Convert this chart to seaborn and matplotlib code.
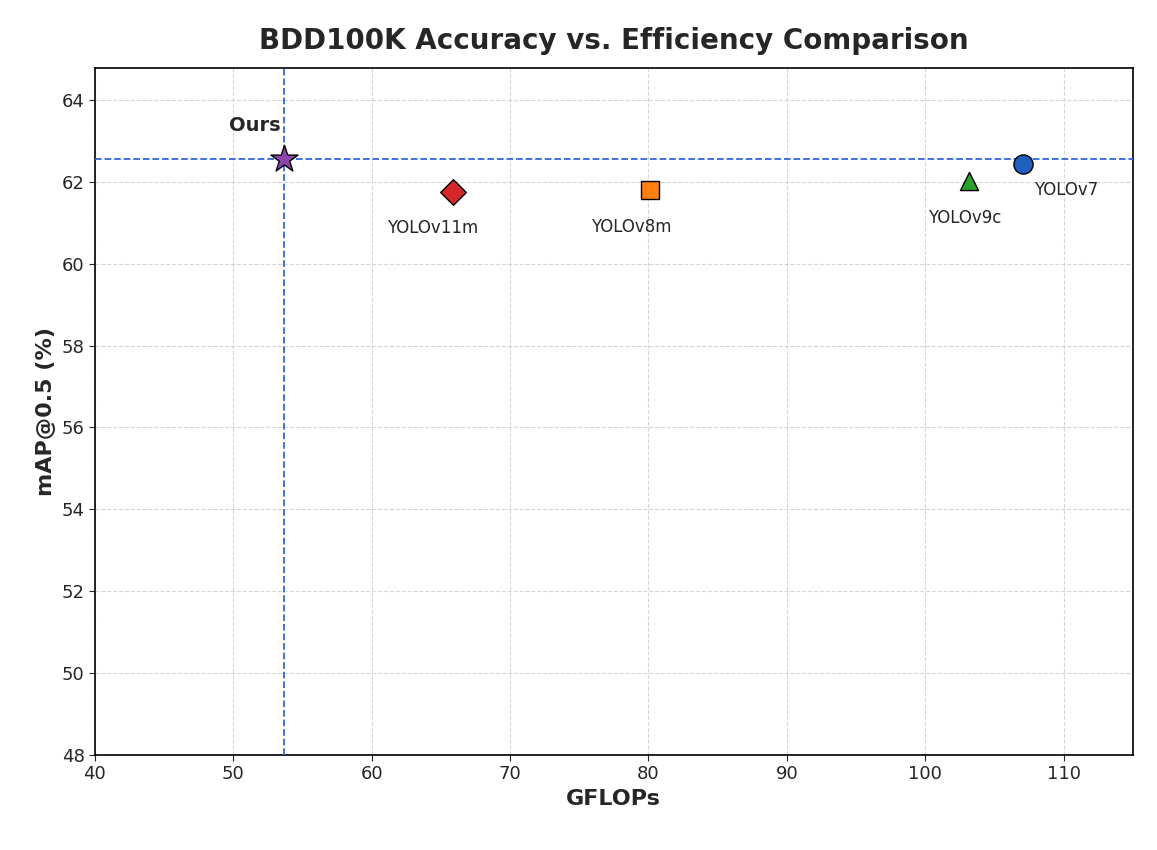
import matplotlib
matplotlib.use("Agg")
import matplotlib.pyplot as plt
import seaborn as sns
import pandas as pd

models = ["Ours", "YOLOv11m", "YOLOv8m", "YOLOv9c", "YOLOv7"]
gflops = [53.7, 65.9, 80.1, 103.2, 107.1]
map50 = [62.55, 61.76, 61.80, 62.02, 62.43]
colors = ["#8e44ad", "#d62728", "#ff7f0e", "#2ca02c", "#1f5fbf"]
markers = ["*", "D", "s", "^", "o"]
sizes = [420, 170, 170, 170, 190]

df = pd.DataFrame({"model": models, "gflops": gflops, "mapv": map50})

sns.set_style("white")
fig = plt.figure(figsize=(11.57, 8.5), dpi=100)
ax = fig.add_axes([0.082, 0.112, 0.897, 0.808])

for i in range(len(df)):
    sub = df.iloc[[i]]
    sns.scatterplot(data=sub, x="gflops", y="mapv", ax=ax, marker=markers[i], s=sizes[i],
                    color=colors[i], edgecolor="black", linewidth=1, zorder=5)

ax.axvline(gflops[0], color="#3366dd", linestyle="--", linewidth=1.3, zorder=3)
ax.axhline(map50[0], color="#3366dd", linestyle="--", linewidth=1.3, zorder=3)

ax.annotate("Ours", (gflops[0], map50[0]), xytext=(-40, 20), textcoords="offset points",
            fontsize=14, fontweight="bold")
offsets = {"YOLOv11m": (-48, -30), "YOLOv8m": (-42, -30), "YOLOv9c": (-30, -30), "YOLOv7": (8, -22)}
for m, x, y in zip(models[1:], gflops[1:], map50[1:]):
    ax.annotate(m, (x, y), xytext=offsets[m], textcoords="offset points", fontsize=12)

ax.set_xlim(40, 115)
ax.set_ylim(48, 64.78)
ax.set_xticks(range(40, 111, 10))
ax.set_yticks(range(48, 65, 2))
ax.tick_params(labelsize=13, direction="out", length=4, left=True, bottom=True)
ax.grid(True, linestyle="--", color="#cccccc", alpha=0.8)
for s in ax.spines.values():
    s.set_color("black")
    s.set_linewidth(1.2)
ax.set_xlabel("GFLOPs", fontsize=16, fontweight="bold")
ax.set_ylabel("mAP@0.5 (%)", fontsize=16, fontweight="bold")
ax.set_title("BDD100K Accuracy vs. Efficiency Comparison", fontsize=20, fontweight="bold", pad=14)

fig.savefig("out.png", dpi=100)
